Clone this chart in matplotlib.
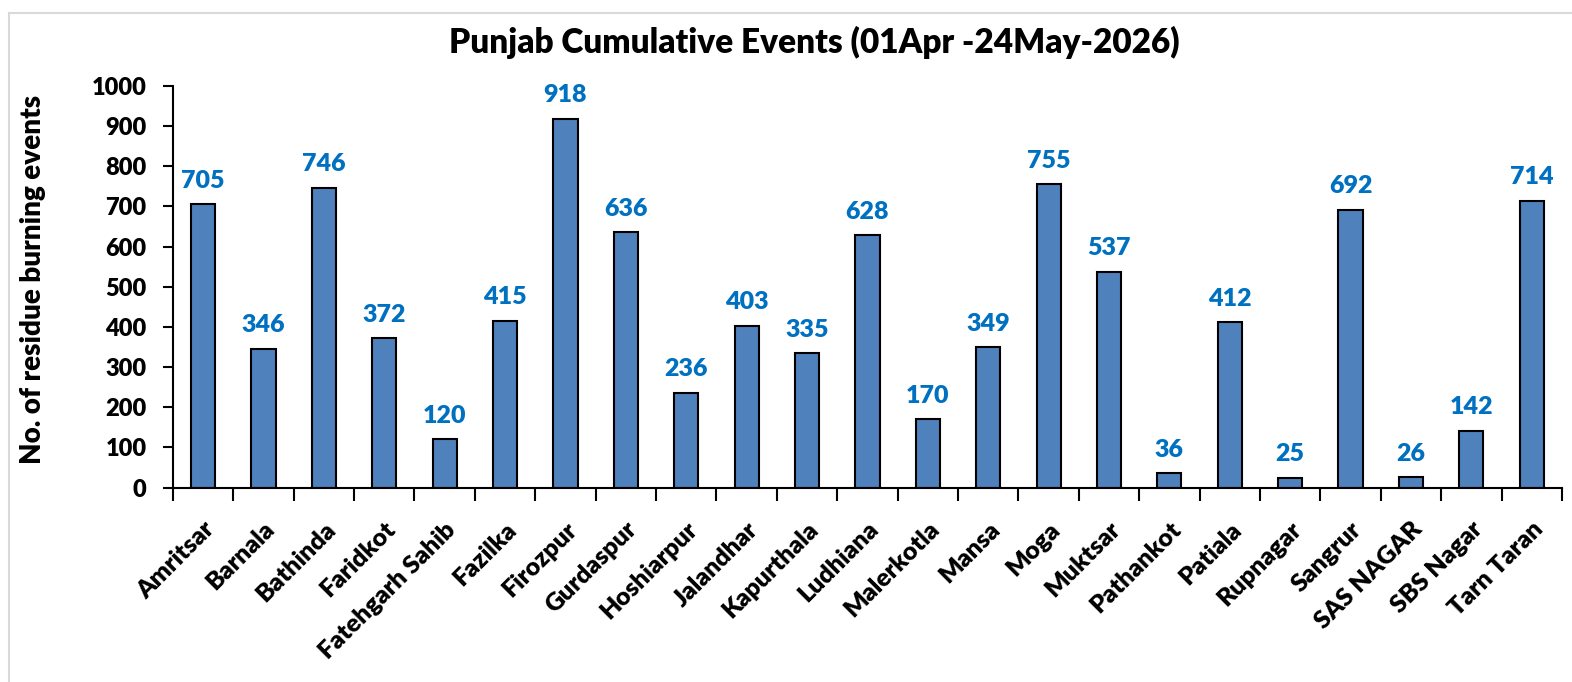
import matplotlib
matplotlib.use('Agg')
import matplotlib.pyplot as plt
from matplotlib.lines import Line2D
import numpy as np

# %% data
districts = ['Amritsar', 'Barnala', 'Bathinda', 'Faridkot', 'Fatehgarh Sahib', 'Fazilka',
             'Firozpur', 'Gurdaspur', 'Hoshiarpur', 'Jalandhar', 'Kapurthala', 'Ludhiana',
             'Malerkotla', 'Mansa', 'Moga', 'Muktsar', 'Pathankot', 'Patiala', 'Rupnagar',
             'Sangrur', 'SAS NAGAR', 'SBS Nagar', 'Tarn Taran']
events = [705, 346, 746, 372, 120, 415, 918, 636, 236, 403, 335, 628,
          170, 349, 755, 537, 36, 412, 25, 692, 26, 142, 714]

W = 'heavy'
plt.rcParams['font.family'] = ['Lato', 'DejaVu Sans']
plt.rcParams['font.weight'] = W

fig = plt.figure(figsize=(15.72, 6.82), dpi=100)
ax = fig.add_axes([0.110, 0.285, 0.8836, 0.589])

x = np.arange(len(districts))
bars = ax.bar(x, events, width=0.4, color='#4F81BD', edgecolor='black', linewidth=1.5, zorder=2)
for xi, v in zip(x, events):
    ax.annotate(str(v), (xi, v), xytext=(0, 9), textcoords='offset points',
                ha='center', va='bottom', color='#0070C0', fontsize=18, fontweight=W)

ax.set_xlim(-0.5, len(districts) - 0.5)
ax.set_ylim(0, 1000)
ax.set_yticks(np.arange(0, 1001, 100))
ax.tick_params(axis='y', labelsize=17, width=1.5, length=7, direction='out', pad=12)
ax.set_xticks(x)
ax.set_xticklabels(districts, rotation=45, ha='right', rotation_mode='anchor', fontsize=18)
ax.tick_params(axis='x', which='major', length=0, pad=22)
ax.set_xticks(np.arange(-0.5, len(districts)), minor=True)
ax.tick_params(axis='x', which='minor', length=9, width=1.5, direction='out')
for lab in ax.get_yticklabels() + ax.get_xticklabels():
    lab.set_fontweight(W)

for s in ['top', 'right']:
    ax.spines[s].set_visible(False)
for s in ['left', 'bottom']:
    ax.spines[s].set_linewidth(1.5)

fig.text(0.518, 0.938, 'Punjab Cumulative Events (01Apr -24May-2026)', ha='center', va='center',
         fontsize=24, fontweight=W)
fig.text(0.021, 0.59, 'No. of residue burning events', rotation=90, ha='center', va='center',
         fontsize=20, fontweight=W)

# chart border
fig.add_artist(Line2D([8.5 / 1572, 8.5 / 1572], [0, 1 - 12.5 / 682], transform=fig.transFigure,
                      color='#d9d9d9', lw=1.5))
fig.add_artist(Line2D([8.5 / 1572, 1], [1 - 12.5 / 682, 1 - 12.5 / 682], transform=fig.transFigure,
                      color='#d9d9d9', lw=1.5))

fig.savefig('out.png', dpi=100)
